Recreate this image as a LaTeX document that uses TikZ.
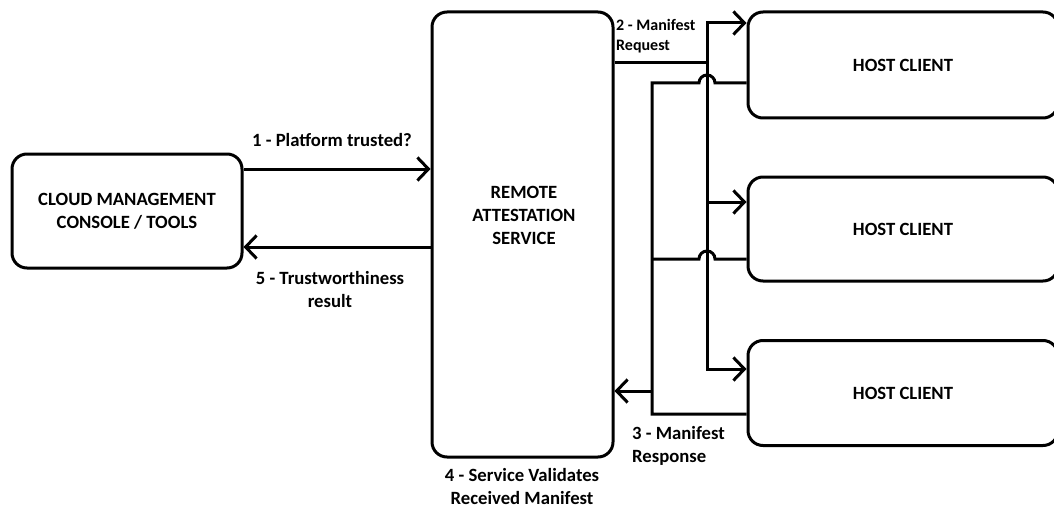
\documentclass[tikz,border=0pt]{standalone}
\usepackage{fontspec}
\setmainfont{Carlito}
\usetikzlibrary{arrows.meta, positioning, calc}
\newcommand{\bigfnt}{\fontsize{18.7}{23}\selectfont\bfseries}
\newcommand{\smallfnt}{\fontsize{16}{20}\selectfont\bfseries}
\tikzset{
  box/.style={draw, line width=3pt, rounded corners=15pt, font=\bigfnt, align=center, inner sep=0pt},
  link/.style={line width=3pt},
  arr/.style={link, -{Straight Barb[length=11pt,width=23pt]}},
  lbl/.style={font=\bigfnt, inner sep=0pt},
}

\begin{document}
\begin{tikzpicture}[x=1pt,y=-1pt]
      \useasboundingbox (0,0) rectangle (1054,508);
      \clip (0,0) rectangle (1054,508);
      \node[box, minimum width=230pt, minimum height=114pt] (CMC) at (127,211) {CLOUD MANAGEMENT\\CONSOLE / TOOLS};
      \node[box, minimum width=181pt, minimum height=445pt] (RAS) at (522.5,234.5) {};
      \node[lbl, align=center] (RAST) at (524,215) {REMOTE\\ATTESTATION\\SERVICE};
      \foreach \i/\y/\h in {1/65/106,2/229/104,3/393/105} {
        \node[box, minimum width=310pt, minimum height=\h pt] (H\i) at (903,\y) {HOST CLIENT};
      }
      \coordinate (rq) at (707,63);
      \coordinate (rs) at (652,391);
      \draw[arr] (CMC.east |- 0,169) -- (RAS.west |- 0,169);
      \draw[arr] (RAS.west |- 0,247) -- (CMC.east |- 0,247);
      \draw[link] (RAS.east |- rq) -- (rq);
      \foreach \i/\y in {1/23,2/202,3/369} {
        \draw[arr] (rq) |- (H\i.west |- 0,\y);
      }
      \draw[link] (H1.west |- 0,83) -- ($(rq |- 0,83)+(8,0)$) arc[start angle=0,end angle=180,radius=8pt]
        -- (rs |- 0,83) -- (rs |- 0,414) -- (H3.west |- 0,414);
      \draw[link] (H2.west |- 0,259) -- ($(rq |- 0,259)+(8,0)$) arc[start angle=0,end angle=180,radius=8pt]
        -- (rs |- 0,259);
      \draw[arr] (rs) -- (RAS.east |- rs);
      \node[lbl] (L1) at (332,140) {1 - Platform trusted?};
      \node[lbl, align=center] (L5) at (330,290) {5 - Trustworthiness\\result};
      \node[lbl, font=\smallfnt, align=left, anchor=west] (L2) at (616,36) {2 - Manifest\\Request};
      \node[lbl, align=left, anchor=west] (L3) at (632,446) {3 - Manifest\\Response};
      \node[lbl, align=center] (L4) at (522,487) {4 - Service Validates\\Received Manifest};
    \end{tikzpicture}
\end{document}
